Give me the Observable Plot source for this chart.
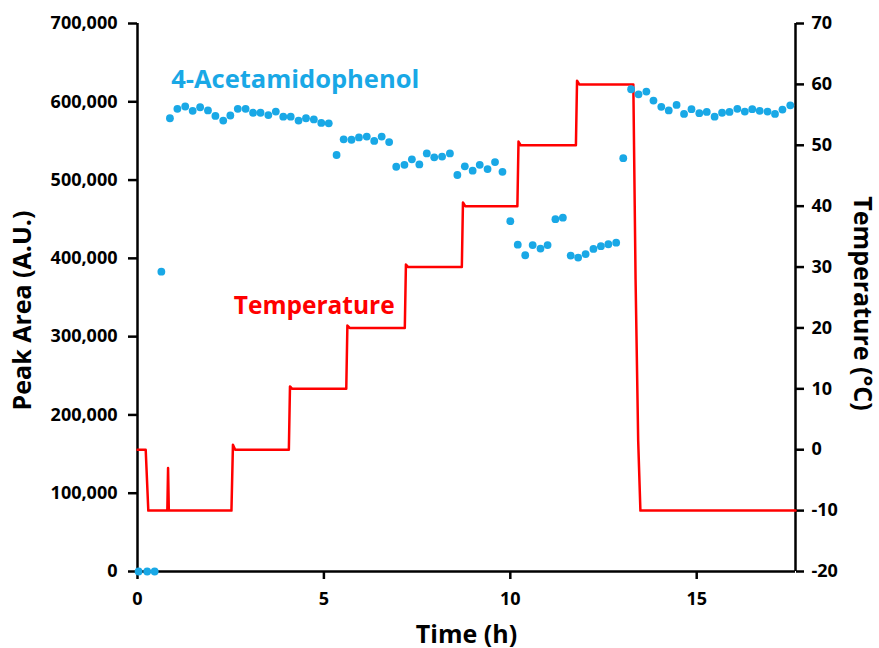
<!DOCTYPE html>
<html>
<head>
<meta charset="utf-8">
<script src="https://cdn.jsdelivr.net/npm/d3@7"></script>
<script src="https://cdn.jsdelivr.net/npm/@observablehq/plot@0.6"></script>
<style>
  html, body { margin: 0; padding: 0; background: #fff; }
</style>
</head>
<body>
<div id="chart"></div>
<script>
// ---- Data ----
const timeH = [0.03,0.26,0.46,0.64,0.87,1.07,1.28,1.48,1.68,1.89,2.09,2.30,2.49,2.69,2.90,3.10,3.30,3.51,3.71,3.91,4.11,4.32,4.52,4.73,4.93,5.13,5.34,5.53,5.74,5.94,6.15,6.35,6.55,6.75,6.94,7.16,7.36,7.56,7.76,7.96,8.17,8.38,8.58,8.78,8.99,9.18,9.39,9.59,9.79,10.00,10.20,10.40,10.60,10.81,11.00,11.21,11.41,11.62,11.82,12.02,12.23,12.43,12.63,12.84,13.03,13.24,13.44,13.65,13.84,14.05,14.25,14.46,14.66,14.86,15.07,15.27,15.48,15.68,15.88,16.09,16.29,16.49,16.69,16.90,17.10,17.30,17.51];
const peakArea = [0,0,0,383000,579000,591000,594000,588500,593000,589000,582000,576000,582500,591000,591000,586000,586000,583000,587500,581000,581000,576000,579000,577500,573000,572500,532000,552000,551500,554500,555500,550000,555500,548500,517000,519500,526500,520000,534000,529000,530000,534000,506500,517500,512000,519500,514000,523000,510500,447500,417500,404000,417000,412500,417000,450000,452000,403500,401000,405500,412000,415500,418000,420000,528000,616000,609500,613000,601500,593500,589000,596000,584500,590500,585500,587000,581000,586000,587000,591000,587500,590500,588500,587500,584500,590000,595500];

const tempTime = [0,0.22,0.29,0.80,0.82,0.84,2.52,2.56,2.62,4.06,4.09,4.15,5.60,5.63,5.69,7.17,7.20,7.26,8.70,8.73,8.79,10.19,10.22,10.28,11.76,11.79,11.85,13.30,13.36,13.43,13.49,17.65];
const tempC    = [0,0,-10,-10,-3,-10,-10,0.8,0,0,10.4,10,10,20.4,20,20,30.4,30,30,40.6,40,40,50.6,50,50,60.6,60,60,28,1.5,-10,-10];

const timeTicks = [0, 5, 10, 15];
const peakTicks = [0, 100000, 200000, 300000, 400000, 500000, 600000, 700000];
const tempTicks = [-20, -10, 0, 10, 20, 30, 40, 50, 60, 70];
const timeMax = 17.65;

const seriesLabels = [
  {text: "4-Acetamidophenol", t: 4.23, v: 628500, color: "#19a8e6"},
  {text: "Temperature", t: 4.74, v: 338500, color: "#ff0000"}
];

// ---- Secondary axis mapping (temperature -> peak-area space) ----
const tempToPeak = d3.scaleLinear()
  .domain([tempTicks[0], tempTicks[tempTicks.length - 1]])
  .range([peakTicks[0], peakTicks[peakTicks.length - 1]]);

const dots = timeH.map((t, i) => ({t, v: peakArea[i]}));
const tempRows = tempTime.map((t, i) => ({t, v: tempToPeak(tempC[i])}));

const BLUE = "#19a8e6";
const RED = "#ff0000";
const FONT = "'Open Sans', 'DejaVu Sans', sans-serif";

const chart = Plot.plot({
  width: 879,
  height: 648,
  marginLeft: 137,
  marginRight: 84,
  marginTop: 23,
  marginBottom: 77,
  x: {domain: [0, timeMax]},
  y: {domain: [peakTicks[0], peakTicks[peakTicks.length - 1]]},
  style: {fontFamily: FONT, fontWeight: "bold", background: "#fff", color: "#000", overflow: "visible"},
  marks: [
    Plot.axisY({ticks: peakTicks, tickFormat: d3.format(","), tickSize: 9, tickPadding: 11,
      fontSize: 18, strokeWidth: 2.5, label: null, fill: "#000"}),
    Plot.axisY({anchor: "right", ticks: tempTicks.map(tempToPeak),
      tickFormat: v => String(Math.round(tempToPeak.invert(v))), tickSize: 8, tickPadding: 8,
      fontSize: 18, strokeWidth: 2.5, label: null, fill: "#000"}),
    Plot.axisX({ticks: timeTicks, tickSize: 8, tickPadding: 13, fontSize: 18,
      strokeWidth: 2.5, label: null, fill: "#000"}),
    Plot.ruleX([0, timeMax], {stroke: "#000", strokeWidth: 2.5}),
    Plot.ruleY([0], {stroke: "#000", strokeWidth: 2.5}),
    Plot.line(tempRows, {x: "t", y: "v", stroke: RED, strokeWidth: 2.5, curve: "linear"}),
    Plot.dot(dots, {x: "t", y: "v", r: 3.9, fill: BLUE, stroke: "none"}),
    Plot.text(seriesLabels.slice(0, 1), {x: "t", y: "v", text: "text", fill: d => d.color, fontSize: 25.5,
      fontWeight: "bold", textAnchor: "middle", lineAnchor: "middle"}),
    Plot.text(seriesLabels.slice(1), {x: "t", y: "v", text: "text", fill: d => d.color, fontSize: 24.5,
      fontWeight: "bold", textAnchor: "middle", lineAnchor: "middle"}),
    Plot.text(["Time (h)"], {frameAnchor: "bottom", dy: 63, textAnchor: "middle", lineAnchor: "middle",
      fontSize: 25, fontWeight: "bold", fill: "#000"}),
    Plot.text(["Peak Area (A.U.)"], {frameAnchor: "left", dx: -115, dy: 13, rotate: -90,
      textAnchor: "middle", lineAnchor: "middle", fontSize: 25, fontWeight: "bold", fill: "#000"}),
    Plot.text(["Temperature (°C)"], {frameAnchor: "right", dx: 66, dy: 6, rotate: 90,
      textAnchor: "middle", lineAnchor: "middle", fontSize: 25, fontWeight: "bold", fill: "#000"})
  ]
});

document.getElementById("chart").appendChild(chart);
</script>
</body>
</html>
